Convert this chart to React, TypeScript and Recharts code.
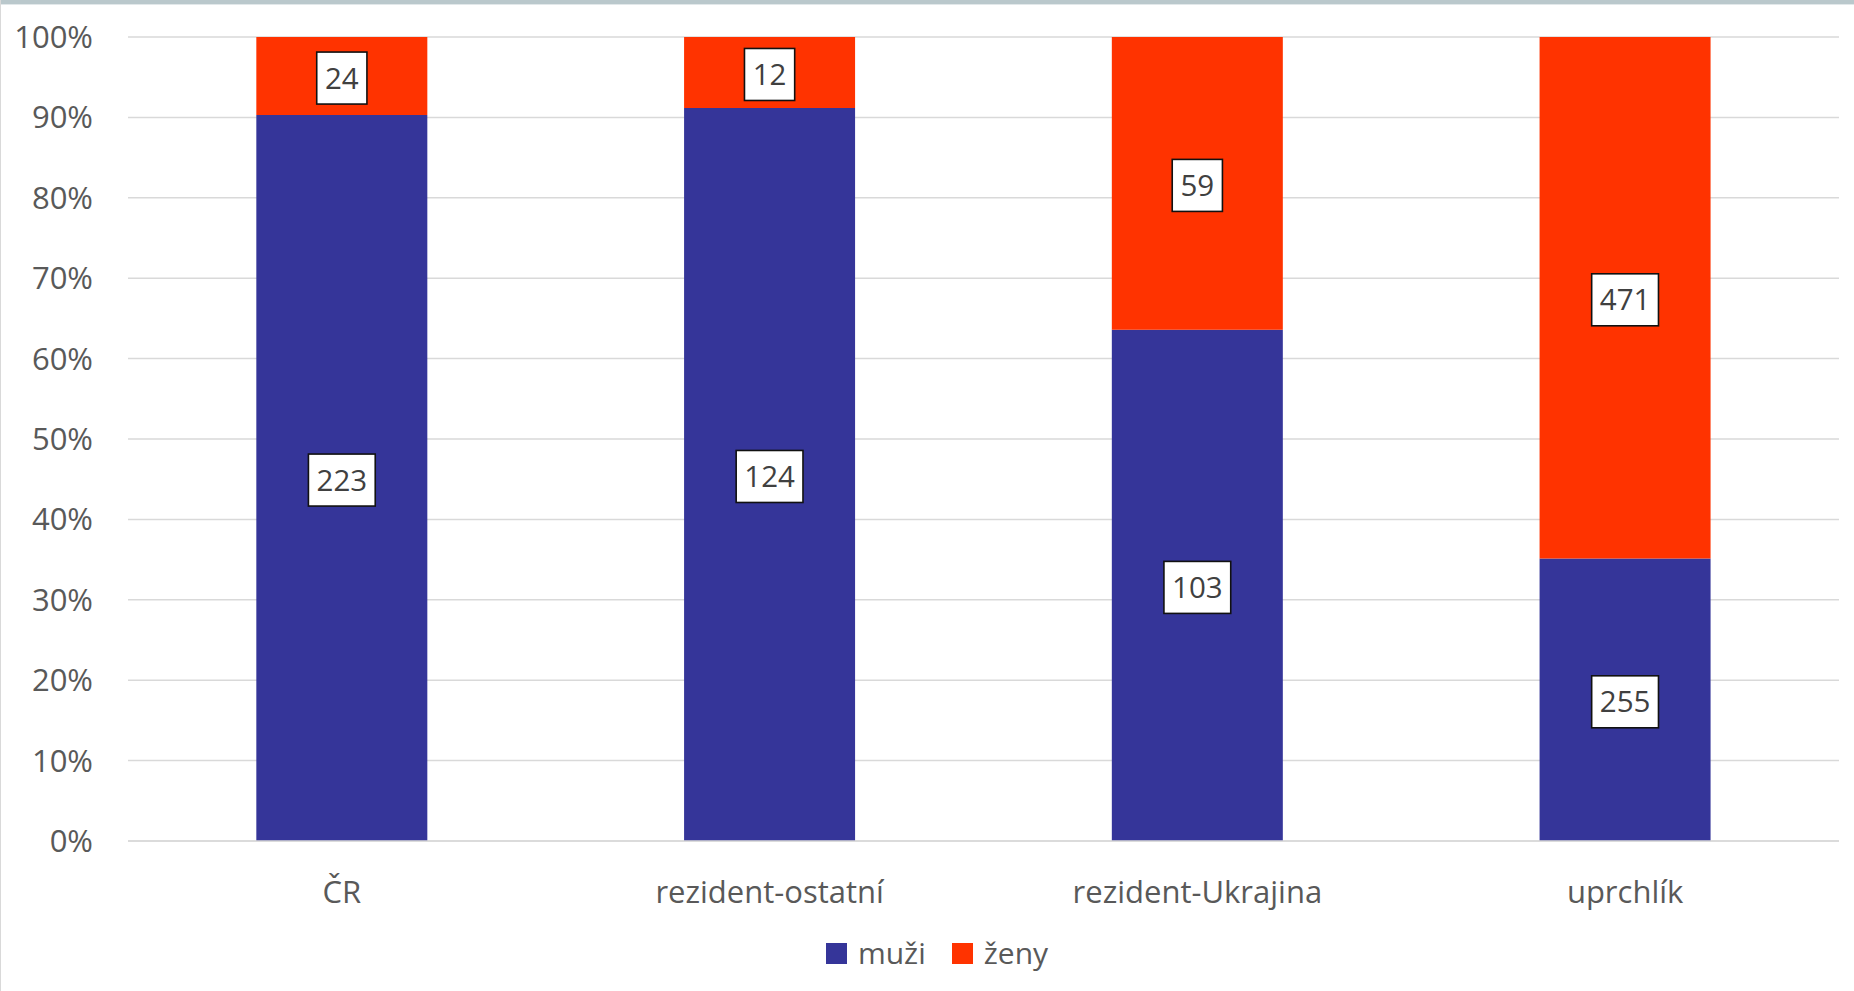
import React from "react";
import { BarChart, Bar, XAxis, YAxis, CartesianGrid, Legend, LabelList } from "recharts";

const categories = ["ČR", "rezident-ostatní", "rezident-Ukrajina", "uprchlík"];
const muzi = [223, 124, 103, 255];
const zeny = [24, 12, 59, 471];
const yTicks = [0, 0.1, 0.2, 0.3, 0.4, 0.5, 0.6, 0.7, 0.8, 0.9, 1];
const seriesNames = ["muži", "ženy"];
const seriesColors = ["#353599", "#FF3300"];

const data = categories.map((c, i) => ({ name: c, muzi: muzi[i], zeny: zeny[i] }));

const FONT = "'Open Sans', 'Noto Sans', sans-serif";

const BoxLabel = (props: any) => {
  const { x, y, width, height, value } = props;
  const cx = Number(x) + Number(width) / 2;
  const cy = Number(y) + Number(height) / 2 + 2;
  const s = String(value);
  const w = s.length * 16.6 + 17;
  const h = 52;
  return (
    <g>
      <rect x={cx - w / 2} y={cy - h / 2} width={w} height={h} fill="#fff" stroke="#111" strokeWidth={1.6} />
      <text x={cx} y={cy + 10.5} textAnchor="middle" fontSize={29.5} fill="#404040" fontFamily={FONT}>
        {s}
      </text>
    </g>
  );
};

const LegendContent = () => (
  <div
    style={{
      display: "flex",
      justifyContent: "center",
      alignItems: "center",
      height: 40,
      paddingLeft: 35,
      fontFamily: FONT,
      fontSize: 30,
      color: "#595959",
    }}
  >
    {seriesNames.map((n, i) => (
      <div key={n} style={{ display: "flex", alignItems: "center", marginRight: i === 0 ? 26 : 0 }}>
        <div style={{ width: 21, height: 21, background: seriesColors[i], marginRight: 11 }} />
        <span style={{ lineHeight: "40px" }}>{n}</span>
      </div>
    ))}
  </div>
);

export default function App() {
  return (
    <div style={{ position: "absolute", left: 0, top: 0, width: 1854, height: 991, background: "#fff", overflow: "hidden" }}>
      <BarChart
        width={1854}
        height={991}
        data={data}
        stackOffset="expand"
        barCategoryGap="30%"
        margin={{ top: 37, right: 15, left: 0, bottom: 18 }}
      >
        <CartesianGrid vertical={false} stroke="#d9d9d9" strokeWidth={1.5} />
        <XAxis
          dataKey="name"
          height={92}
          tickLine={false}
          tickSize={0}
          tickMargin={40}
          axisLine={{ stroke: "#d9d9d9", strokeWidth: 1.5 }}
          tick={{ fill: "#595959", fontSize: 31, fontFamily: FONT }}
          interval={0}
        />
        <YAxis
          width={128}
          domain={[0, 1]}
          ticks={yTicks}
          tickFormatter={(v: number) => `${Math.round(v * 100)}%`}
          axisLine={false}
          tickLine={false}
          tickSize={0}
          tickMargin={35}
          tick={{ fill: "#595959", fontSize: 31, fontFamily: FONT }}
          interval={0}
        />
        <Legend verticalAlign="bottom" content={LegendContent} />
        <Bar dataKey="muzi" name={seriesNames[0]} stackId="a" fill={seriesColors[0]} isAnimationActive={false}>
          <LabelList dataKey="muzi" content={BoxLabel} />
        </Bar>
        <Bar dataKey="zeny" name={seriesNames[1]} stackId="a" fill={seriesColors[1]} isAnimationActive={false}>
          <LabelList dataKey="zeny" content={BoxLabel} />
        </Bar>
      </BarChart>
      <div style={{ position: "absolute", left: 0, top: 0, width: 1854, height: 4, background: "#bac8cc" }} />
      <div style={{ position: "absolute", left: 0, top: 4, width: 1854, height: 1, background: "#e2e8ea" }} />
      <div style={{ position: "absolute", left: 0, top: 0, width: 1, height: 991, background: "#d9d9d9" }} />
    </div>
  );
}
